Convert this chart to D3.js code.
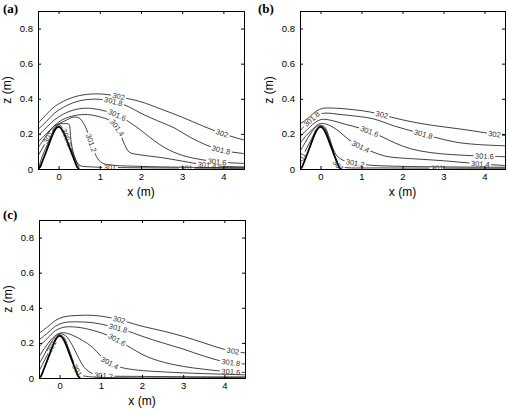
<!DOCTYPE html>
<html>
<head>
<meta charset="utf-8">
<script src="https://cdn.jsdelivr.net/npm/d3@7"></script>
<style>
body { margin: 0; background: #fff; }
svg { display: block; }
</style>
</head>
<body>
<svg id="chart" width="509" height="413"></svg>
<script>
// axis ticks
let xTicks = [0, 1, 2, 3, 4]
let zTicks = [0, 0.2, 0.4, 0.6, 0.8]

// terrain (hill), [x, z] in m
let hill = [[-0.5, 0], [-0.45, 0.012], [-0.4, 0.04], [-0.35, 0.07], [-0.3, 0.1], [-0.25, 0.132], [-0.2, 0.163],
    [-0.15, 0.193], [-0.1, 0.218], [-0.05, 0.234], [0, 0.24], [0.05, 0.234], [0.1, 0.218], [0.15, 0.193],
    [0.2, 0.163], [0.25, 0.132], [0.3, 0.1], [0.35, 0.07], [0.4, 0.04], [0.45, 0.012], [0.5, 0]]

// panel (a) contour lines: [level, points]
let linesA = [
    ["302", [[-0.5, 0.26], [-0.3, 0.31], [-0.1, 0.355], [0.2, 0.395], [0.5, 0.418], [0.9, 0.428], [1.3, 0.42], [1.7, 0.4], [2.0, 0.383], [2.5, 0.34], [3.0, 0.295], [3.5, 0.245], [4.0, 0.2], [4.5, 0.165]]],
    ["301.8", [[-0.5, 0.225], [-0.3, 0.27], [-0.1, 0.318], [0.2, 0.362], [0.5, 0.388], [0.9, 0.398], [1.3, 0.386], [1.7, 0.355], [2.0, 0.317], [2.4, 0.275], [2.8, 0.235], [3.2, 0.18], [3.6, 0.135], [4.0, 0.105], [4.5, 0.088]]],
    ["301.6", [[-0.5, 0.19], [-0.3, 0.235], [-0.1, 0.28], [0.2, 0.322], [0.5, 0.343], [0.8, 0.345], [1.1, 0.332], [1.4, 0.31], [1.7, 0.27], [2.0, 0.22], [2.3, 0.165], [2.6, 0.118], [3.0, 0.078], [3.5, 0.052], [4.0, 0.038], [4.5, 0.032]]],
    ["301.4", [[-0.5, 0.155], [-0.3, 0.2], [-0.1, 0.248], [0.1, 0.282], [0.4, 0.305], [0.7, 0.31], [1.0, 0.297], [1.25, 0.275], [1.45, 0.225], [1.6, 0.14], [1.72, 0.095], [2.0, 0.08], [2.5, 0.065], [3.0, 0.045], [3.5, 0.025], [4.0, 0.015], [4.5, 0.012]]],
    ["301.2", [[-0.5, 0.12], [-0.4, 0.155], [-0.3, 0.19], [-0.2, 0.22], [-0.1, 0.245], [0.05, 0.262], [0.2, 0.28], [0.35, 0.295], [0.5, 0.29], [0.62, 0.255], [0.72, 0.2], [0.82, 0.13], [0.92, 0.07], [1.05, 0.035], [1.3, 0.022], [2.0, 0.015], [3.0, 0.01], [4.5, 0.007]]],
    ["301", [[-0.5, 0.075], [-0.4, 0.115], [-0.3, 0.16], [-0.2, 0.2], [-0.1, 0.235], [0.0, 0.255], [0.12, 0.258], [0.25, 0.255], [0.28, 0.22], [0.3, 0.16], [0.35, 0.1], [0.42, 0.05], [0.52, 0.02], [0.8, 0.012], [1.5, 0.008], [4.5, 0.004]]],
    ["300.8", [[-0.48, 0.01], [-0.4, 0.07], [-0.3, 0.125], [-0.2, 0.18], [-0.1, 0.228], [0, 0.25], [0.1, 0.235], [0.2, 0.18], [0.3, 0.12], [0.4, 0.06], [0.5, 0.01]]]
]
let labelsA = [["302", 1.45, 0.41], ["301.8", 1.33, 0.386], ["301.6", 1.42, 0.31], ["301.4", 1.42, 0.235],
    ["301.2", 0.8, 0.15], ["301", 1.25, 0.02], ["302", 3.95, 0.195], ["301.8", 3.95, 0.11], ["301.6", 3.85, 0.04],
    ["301.4", 3.6, 0.02], ["301", 3.1, 0.01], ["300.8", 0.22, 0.18], ["301", -0.25, 0.18]]

// panel (b)
let linesB = [
    ["302", [[-0.5, 0.256], [-0.3, 0.29], [-0.1, 0.33], [0.05, 0.345], [0.3, 0.347], [0.8, 0.338], [1.2, 0.325], [1.6, 0.303], [2.0, 0.28], [2.5, 0.257], [3.0, 0.24], [3.5, 0.225], [4.0, 0.207], [4.5, 0.19]]],
    ["301.8", [[-0.5, 0.218], [-0.3, 0.265], [-0.1, 0.305], [0.1, 0.318], [0.5, 0.31], [0.9, 0.3], [1.3, 0.285], [1.8, 0.245], [2.3, 0.212], [2.8, 0.18], [3.3, 0.153], [3.8, 0.14], [4.5, 0.132]]],
    ["301.6", [[-0.5, 0.184], [-0.3, 0.23], [-0.1, 0.27], [0.05, 0.283], [0.3, 0.275], [0.6, 0.255], [1.0, 0.23], [1.4, 0.195], [1.8, 0.15], [2.2, 0.115], [2.7, 0.093], [3.2, 0.082], [3.8, 0.075], [4.5, 0.07]]],
    ["301.4", [[-0.5, 0.146], [-0.35, 0.19], [-0.2, 0.225], [-0.05, 0.255], [0.05, 0.26], [0.25, 0.245], [0.45, 0.215], [0.7, 0.165], [1.0, 0.125], [1.3, 0.095], [1.6, 0.072], [2.0, 0.062], [2.5, 0.055], [3.0, 0.047], [3.5, 0.037], [4.0, 0.027], [4.5, 0.02]]],
    ["301.2", [[-0.5, 0.1], [-0.4, 0.14], [-0.3, 0.18], [-0.2, 0.215], [-0.1, 0.24], [0, 0.25], [0.1, 0.24], [0.2, 0.19], [0.3, 0.12], [0.4, 0.075], [0.55, 0.05], [0.8, 0.035], [1.2, 0.022], [2, 0.015], [3, 0.012], [4.5, 0.01]]],
    ["301", [[-0.5, 0.05], [-0.4, 0.09], [-0.3, 0.135], [-0.2, 0.18], [-0.1, 0.225], [0, 0.245], [0.1, 0.232], [0.2, 0.175], [0.3, 0.11], [0.38, 0.05], [0.45, 0.015], [0.6, 0.008], [1.5, 0.006], [4.5, 0.004]]]
]
let labelsB = [["302", 1.5, 0.31], ["302", 4.25, 0.2], ["301.8", -0.22, 0.285], ["301.8", 2.52, 0.205],
    ["301.6", 1.2, 0.22], ["301.6", 4.0, 0.075], ["301.4", 0.98, 0.128], ["301.4", 3.9, 0.03],
    ["301.2", 0.85, 0.035], ["301", 0.38, 0.01], ["301", 2.85, 0.01], ["301", -0.47, 0.06]]

// panel (c)
let linesC = [
    ["302", [[-0.5, 0.254], [-0.3, 0.29], [-0.1, 0.328], [0.1, 0.348], [0.4, 0.356], [0.8, 0.357], [1.2, 0.345], [1.6, 0.322], [2.0, 0.295], [2.5, 0.268], [3.0, 0.237], [3.5, 0.2], [4.0, 0.163], [4.5, 0.143]]],
    ["301.8", [[-0.5, 0.217], [-0.3, 0.255], [-0.1, 0.295], [0.1, 0.315], [0.4, 0.32], [0.8, 0.315], [1.2, 0.297], [1.6, 0.272], [2.0, 0.238], [2.5, 0.2], [3.0, 0.165], [3.5, 0.125], [4.0, 0.093], [4.5, 0.08]]],
    ["301.6", [[-0.5, 0.178], [-0.3, 0.225], [-0.1, 0.27], [0.1, 0.289], [0.4, 0.29], [0.8, 0.272], [1.2, 0.24], [1.6, 0.19], [2.0, 0.135], [2.4, 0.098], [3.0, 0.066], [3.5, 0.05], [4.0, 0.038], [4.5, 0.032]]],
    ["301.4", [[-0.5, 0.121], [-0.35, 0.175], [-0.2, 0.22], [-0.05, 0.25], [0.1, 0.258], [0.3, 0.245], [0.55, 0.215], [0.8, 0.175], [1.0, 0.125], [1.2, 0.088], [1.5, 0.06], [1.9, 0.045], [2.5, 0.035], [3.5, 0.025], [4.5, 0.018]]],
    ["301.2", [[-0.5, 0.08], [-0.4, 0.12], [-0.3, 0.165], [-0.2, 0.205], [-0.1, 0.235], [0.02, 0.252], [0.15, 0.24], [0.3, 0.19], [0.45, 0.12], [0.6, 0.06], [0.8, 0.025], [1.1, 0.013], [2, 0.009], [4.5, 0.006]]],
    ["301", [[-0.5, 0.04], [-0.4, 0.085], [-0.3, 0.13], [-0.2, 0.178], [-0.1, 0.222], [0, 0.245], [0.1, 0.233], [0.2, 0.18], [0.3, 0.115], [0.4, 0.055], [0.5, 0.02], [0.7, 0.008], [4.5, 0.004]]]
]
let labelsC = [["302", 1.45, 0.33], ["302", 4.2, 0.15], ["301.8", 1.42, 0.285], ["301.8", 4.15, 0.085],
    ["301.6", 1.38, 0.215], ["301.6", 4.15, 0.036], ["301.4", 1.22, 0.085], ["301.2", 1.06, 0.012],
    ["301", 0.42, 0.045], ["301", -0.2, 0.18]]

let panels = [
    {tag: "(a)", left: 38, top: 11, w: 206, h: 158, lines: linesA, labels: labelsA, tagX: 3, tagY: 13},
    {tag: "(b)", left: 300, top: 11, w: 205, h: 158, lines: linesB, labels: labelsB, tagX: 258, tagY: 13},
    {tag: "(c)", left: 39, top: 220, w: 206, h: 158, lines: linesC, labels: labelsC, tagX: 3, tagY: 219}
]

const sans = "'Liberation Sans', Arial, sans-serif"
const serif = "'Liberation Serif', 'Times New Roman', serif"

let svg = d3.select("#chart")
let defs = svg.append("defs")

function nearestLength(node, px, py) {
    let L = node.getTotalLength()
    let best = 0, bd = Infinity
    for (let l = 0; l <= L; l += 0.5) {
        let p = node.getPointAtLength(l)
        let d = (p.x - px) ** 2 + (p.y - py) ** 2
        if (d < bd) { bd = d; best = l }
    }
    return best
}

panels.forEach((p, pi) => {
    let sx = d3.scaleLinear([-0.5, 4.5], [p.left, p.left + p.w])
    let sy = d3.scaleLinear([0, 0.9], [p.top + p.h, p.top])
    let g = svg.append("g")

    defs.append("clipPath").attr("id", "clip" + pi)
        .append("rect").attr("x", p.left).attr("y", p.top).attr("width", p.w).attr("height", p.h)

    let line = d3.line().x(d => sx(d[0])).y(d => sy(d[1])).curve(d3.curveCatmullRom.alpha(0.5))

    let plot = g.append("g").attr("clip-path", `url(#clip${pi})`)
    let paths = {}
    let masks = {}

    p.lines.forEach(([lev, pts], i) => {
        let id = `m${pi}_${i}`
        let mask = defs.append("mask").attr("id", id).attr("maskUnits", "userSpaceOnUse")
            .attr("x", 0).attr("y", 0).attr("width", 509).attr("height", 413)
        mask.append("rect").attr("width", 509).attr("height", 413).attr("fill", "#fff")
        masks[lev] = mask
        paths[lev] = plot.append("path").datum(pts)
            .attr("d", line)
            .attr("fill", "none")
            .attr("stroke", "#111")
            .attr("stroke-width", 0.8)
            .attr("mask", `url(#${id})`)
    })

    // terrain
    plot.append("path").datum(hill)
        .attr("d", line)
        .attr("fill", "none")
        .attr("stroke", "#000")
        .attr("stroke-width", 1.8)

    // contour labels
    p.labels.forEach(([txt, x, z]) => {
        let node = paths[txt].node()
        let L = node.getTotalLength()
        let l = nearestLength(node, sx(x), sy(z))
        let pt = node.getPointAtLength(l)
        let a0 = node.getPointAtLength(Math.max(0, l - 4))
        let a1 = node.getPointAtLength(Math.min(L, l + 4))
        let ang = Math.atan2(a1.y - a0.y, a1.x - a0.x) * 180 / Math.PI
        if (ang > 90) ang -= 180
        if (ang < -90) ang += 180
        let tr = `translate(${pt.x},${pt.y}) rotate(${ang})`
        let t = plot.append("text")
            .attr("transform", tr)
            .attr("text-anchor", "middle")
            .attr("dy", "0.35em")
            .style("font-family", sans)
            .style("font-size", "7.5px")
            .attr("fill", "#333")
            .text(txt)
        let tw = t.node().getComputedTextLength()
        masks[txt].append("rect")
            .attr("transform", tr)
            .attr("x", -tw / 2 - 1.5).attr("y", -3.5)
            .attr("width", tw + 3).attr("height", 7)
            .attr("fill", "#000")
    })

    // axes, ticks inside the box on all four sides
    let bottom = g.append("g").attr("transform", `translate(0,${p.top + p.h})`)
        .call(d3.axisBottom(sx).tickValues(xTicks).tickSizeInner(-3).tickSizeOuter(0).tickPadding(4.5)
            .tickFormat(d3.format("d")))
    let left = g.append("g").attr("transform", `translate(${p.left},0)`)
        .call(d3.axisLeft(sy).tickValues(zTicks).tickSizeInner(-3).tickSizeOuter(0).tickPadding(5)
            .tickFormat(d => d === 0 ? "0" : d3.format(".1f")(d)))
    let top = g.append("g").attr("transform", `translate(0,${p.top})`)
        .call(d3.axisTop(sx).tickValues(xTicks).tickSizeInner(-3).tickSizeOuter(0).tickFormat(""))
    let right = g.append("g").attr("transform", `translate(${p.left + p.w},0)`)
        .call(d3.axisRight(sy).tickValues(zTicks).tickSizeInner(-3).tickSizeOuter(0).tickFormat(""))

    for (let ax of [bottom, left, top, right]) {
        ax.select(".domain").remove()
        ax.selectAll("line").attr("stroke", "#000")
        ax.selectAll("text").attr("fill", "#000")
            .style("font-family", sans).style("font-size", "9.5px")
    }

    g.append("rect")
        .attr("x", p.left + 0.5).attr("y", p.top + 0.5)
        .attr("width", p.w).attr("height", p.h)
        .attr("fill", "none").attr("stroke", "#000").attr("stroke-width", 1)

    g.append("text")
        .attr("x", p.left + p.w / 2).attr("y", p.top + p.h + 27)
        .attr("text-anchor", "middle")
        .style("font-family", sans).style("font-size", "12px")
        .text("x (m)")

    g.append("text")
        .attr("transform", `translate(${p.left - 27.5},${p.top + p.h / 2}) rotate(-90)`)
        .attr("text-anchor", "middle")
        .style("font-family", sans).style("font-size", "12px")
        .text("z (m)")

    g.append("text")
        .attr("x", p.tagX).attr("y", p.tagY)
        .style("font-family", serif).style("font-weight", "bold").style("font-size", "13px")
        .text(p.tag)
})
</script>
</body>
</html>
